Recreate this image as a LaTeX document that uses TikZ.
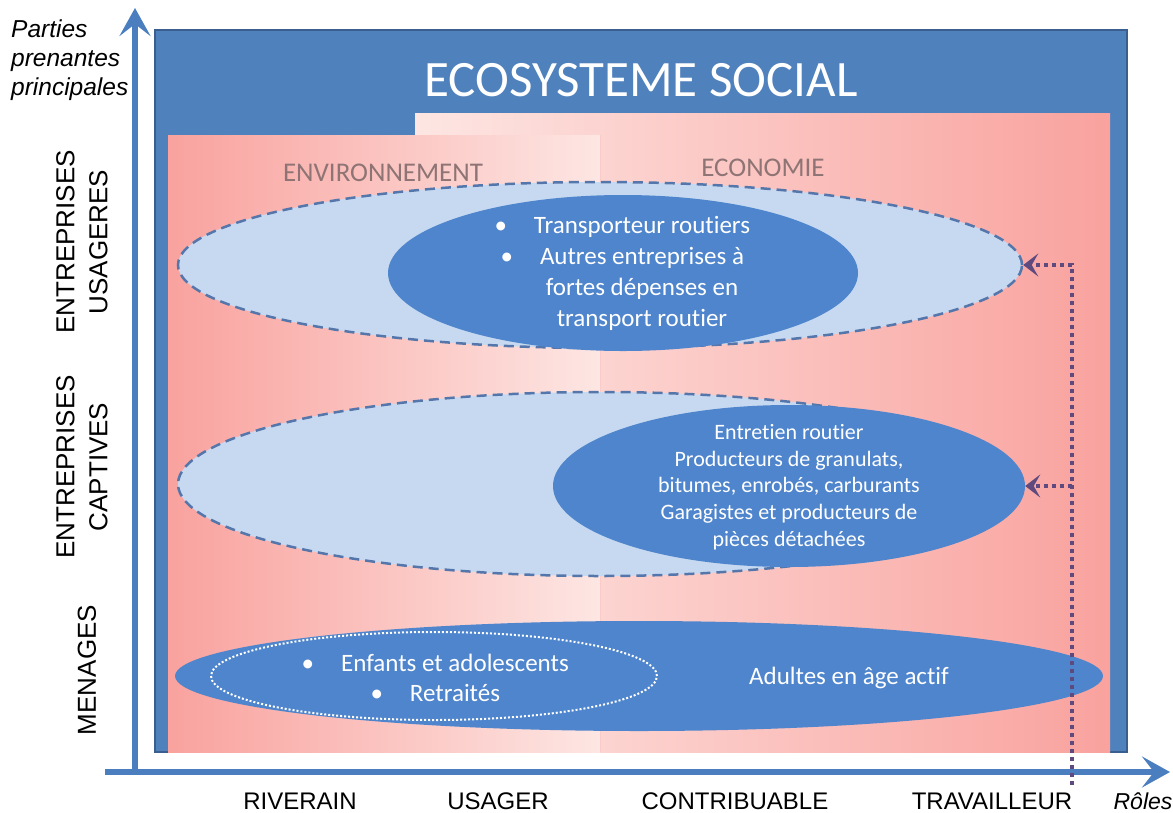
\documentclass[tikz,border=0pt]{standalone}
\usepackage{fontspec}
\setmainfont{Carlito}[Ligatures=NoCommon]
\newfontfamily\arialf{Liberation Sans}
\usetikzlibrary{shapes.geometric,arrows.meta}
\definecolor{boxblue}{HTML}{4F81BD}
\definecolor{boxborder}{HTML}{3A5F8F}
\definecolor{axisblue}{HTML}{4A7EBF}
\definecolor{salmon}{HTML}{F9A29E}
\definecolor{lightpink}{HTML}{FDE6E3}
\definecolor{paleblue}{HTML}{C6D9F1}
\definecolor{dashblue}{HTML}{5576AA}
\definecolor{midblue}{HTML}{4F85CC}
\definecolor{dotpurple}{HTML}{5E4A7E}
\definecolor{sectext}{HTML}{8E7474}
\tikzset{
  outerell/.style={ellipse, fill=paleblue, draw=dashblue, line width=2.5pt, dash pattern=on 10pt off 6pt, inner sep=0pt},
  innerell/.style={ellipse, fill=midblue, draw=none, inner sep=0pt},
  whitedot/.style={ellipse, draw=white, line width=2pt, dash pattern=on 2pt off 2pt, inner sep=0pt},
  elltext/.style={text=white, align=center, inner sep=0pt},
  dotarrow/.style={draw=dotpurple, line width=4pt, dash pattern=on 4pt off 4pt, -{Stealth[length=15pt,width=23pt,inset=6.5pt]}},
  axisline/.style={draw=axisblue, line width=6.5pt, -{Stealth[length=28pt,width=31pt,inset=12pt]}},
  seclabel/.style={text=sectext, font=\fontsize{27}{27}\selectfont},
  vlabel/.style={rotate=90, align=center, font=\arialf\fontsize{26}{33}\selectfont, inner sep=0pt},
  hlabel/.style={font=\arialf\fontsize{24}{24}\selectfont, inner sep=0pt},
}
\begin{document}
\begin{tikzpicture}[x=1pt,y=-1pt]
\useasboundingbox (0,0) rectangle (1173,812);
% outer blue box
\draw[fill=boxblue, draw=boxborder, line width=1.5pt] (155,30) rectangle (1127,752);
% panels
\shade[left color=lightpink, right color=salmon] (415,113) rectangle (1110,752);
\shade[left color=salmon, right color=lightpink] (168,135) rectangle (600,752);
\draw[draw=salmon!40!lightpink, line width=0.6pt] (600,135) -- (600,752);
% title and sections
\node[text=white, font=\fontsize{51}{51}\selectfont, inner sep=0pt] (title) at (641,80) {ECOSYSTEME SOCIAL};
\node[seclabel] (env) at (383,173) {ENVIRONNEMENT};
\node[seclabel] (eco) at (763,168) {ECONOMIE};
% entreprises usageres
\node[outerell, minimum width=844pt, minimum height=166pt] (u) at (600,265) {};
\node[innerell, minimum width=470pt, minimum height=156pt] (u2) at (623,273) {};
\node[elltext, font=\fontsize{25}{31}\selectfont] (ut) at (642,273) {\llap{\textbullet\hspace{27pt}}Transporteur routiers\\\llap{\textbullet\hspace{27pt}}Autres entreprises \`a\\fortes d\'epenses en\\transport routier};
% entreprises captives
\node[outerell, minimum width=844pt, minimum height=184pt] (c) at (600,484) {};
\node[innerell, minimum width=472pt, minimum height=162pt] (c2) at (789,486) {};
\node[elltext, font=\fontsize{22}{26.7}\selectfont] (ct) at (789,487) {Entretien routier\\Producteurs de granulats,\\bitumes, enrob\'es, carburants\\Garagistes et producteurs de\\pi\`eces d\'etach\'ees};
% menages
\node[innerell, minimum width=928pt, minimum height=110pt] (m) at (639,676) {};
\node[whitedot, minimum width=446pt, minimum height=88pt] (m2) at (434,676) {};
\node[elltext, font=\fontsize{25}{30}\selectfont] (mt) at (455,678) {\llap{\textbullet\hspace{27pt}}Enfants et adolescents\\\llap{\textbullet\hspace{27pt}}Retrait\'es};
\node[elltext, font=\fontsize{25}{30}\selectfont] (mt2) at (849,678) {Adultes en \^age actif};
% axes
\coordinate (yb) at (135,775);
\coordinate (yt) at (135,8);
\coordinate (xl) at (105,772);
\coordinate (xr) at (1170,772);
\draw[axisline] (yb) -- (yt);
\draw[axisline] (xl) -- (xr);
% dotted arrows
\coordinate (src) at (1072,785);
\draw[dotarrow] (src) |- (u.east);
\draw[dotarrow] (src |- c2.east) -- (c2.east);
% labels
\node[font=\arialf\itshape\fontsize{24.5}{29}\selectfont, align=left, anchor=west, inner sep=0pt] (pp) at (11,60) {Parties\\prenantes\\principales};
\node[vlabel] (lu) at (82,242) {ENTREPRISES\\USAGERES};
\node[vlabel] (lc) at (82,467) {ENTREPRISES\\CAPTIVES};
\node[vlabel] (lm) at (87,670) {MENAGES};
\node[hlabel] (riv) at (300,801) {RIVERAIN};
\node[hlabel] (usa) at (498,801) {USAGER};
\node[hlabel] (con) at (735,801) {CONTRIBUABLE};
\node[hlabel] (tra) at (992,801) {TRAVAILLEUR};
\node[font=\arialf\itshape\fontsize{23}{23}\selectfont, inner sep=0pt] (rol) at (1143,801) {R\^oles};
\end{tikzpicture}
\end{document}
